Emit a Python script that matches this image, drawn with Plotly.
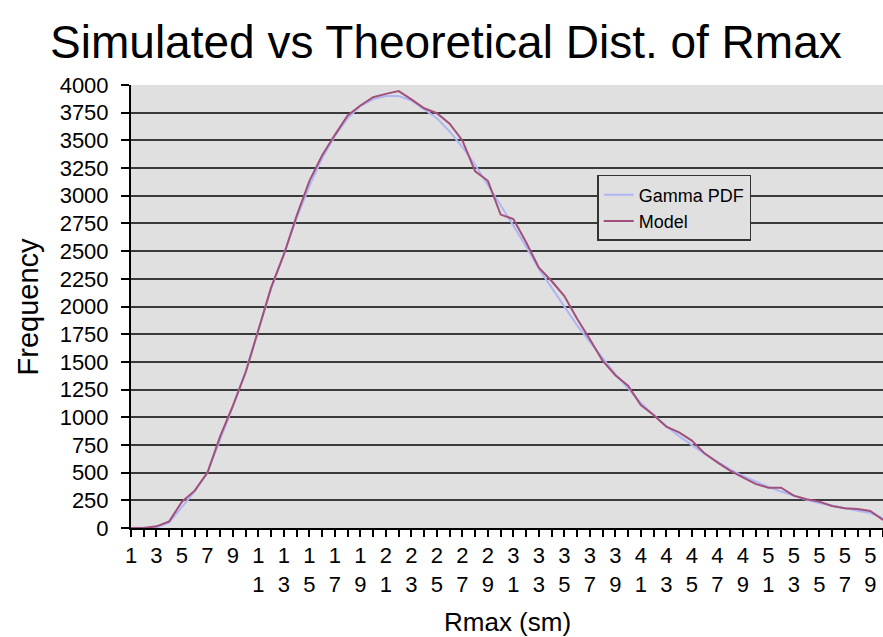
import plotly.graph_objects as go

# Rmax categories (1..60) and the frequency counts
rmax = list(range(1, 61))

gamma_pdf = [0, 0, 5, 50, 190, 330, 500, 800, 1100, 1420,
             1790, 2160, 2480, 2800, 3090, 3340, 3540, 3700, 3810, 3870,
             3900, 3900, 3860, 3780, 3700, 3580, 3440, 3280, 3100, 2910,
             2730, 2540, 2340, 2170, 2000, 1830, 1680, 1530, 1390, 1260,
             1130, 1020, 920, 830, 750, 670, 600, 530, 470, 420,
             370, 330, 290, 255, 225, 200, 175, 155, 135, 90]

model = [0, 0, 15, 60, 238, 337, 500, 829, 1105, 1406,
         1790, 2175, 2470, 2820, 3135, 3365, 3550, 3725, 3815, 3890,
         3920, 3945, 3870, 3790, 3745, 3650, 3500, 3220, 3135, 2830,
         2790, 2580, 2350, 2230, 2095, 1890, 1705, 1510, 1380, 1285,
         1110, 1020, 915, 864, 789, 674, 593, 518, 458, 398,
         364, 364, 292, 260, 238, 199, 178, 172, 154, 72]

# Excel-style labels: only odd values, digits stacked vertically
tick_text = []
for k in rmax:
    if k % 2 == 0:
        tick_text.append("")
    elif k < 10:
        tick_text.append(str(k))
    else:
        tick_text.append("<br>".join(str(k)))

y_ticks = list(range(0, 4001, 250))

fig = go.Figure()

fig.add_trace(go.Scatter(x=rmax, y=gamma_pdf, mode="lines", name="Gamma PDF",
                         line=dict(color="#b0b6f4", width=2)))
fig.add_trace(go.Scatter(x=rmax, y=model, mode="lines", name="Model",
                         line=dict(color="#a0507a", width=2)))

font_family = "Liberation Sans, Arial, sans-serif"

fig.update_layout(
    width=883,
    height=637,
    margin=dict(l=131, r=0, t=85, b=109),
    paper_bgcolor="white",
    plot_bgcolor="#e0e0e0",
    font=dict(family=font_family, color="black"),
    title=dict(text="Simulated vs Theoretical Dist. of Rmax",
               x=0.505, xanchor="center", y=0.935, yanchor="middle",
               font=dict(size=46, color="black")),
    legend=dict(x=0.62, y=0.797, xanchor="left", yanchor="top",
                bgcolor="#e0e0e0", bordercolor="#333333", borderwidth=1.5,
                font=dict(size=18), tracegroupgap=2),
    annotations=[
        dict(text="Frequency", xref="paper", yref="paper", x=-0.137, y=0.5,
             textangle=-90, showarrow=False, font=dict(size=29),
             xanchor="center", yanchor="middle"),
        dict(text="Rmax (sm)", xref="paper", yref="paper", x=0.5, y=-0.212,
             showarrow=False, font=dict(size=26),
             xanchor="center", yanchor="middle"),
    ],
)

fig.update_xaxes(
    range=[1, 60],
    automargin=False,
    tickmode="array", tickvals=rmax, ticktext=tick_text,
    ticks="outside", ticklen=7, tickcolor="black", tickwidth=1.5,
    tickfont=dict(size=22),
    showline=True, linecolor="black", linewidth=2,
    showgrid=False, zeroline=False,
)

fig.update_yaxes(
    range=[0, 4000],
    automargin=False,
    tickmode="array", tickvals=y_ticks,
    ticks="outside", ticklen=8, tickcolor="black", tickwidth=1.5,
    ticklabelstandoff=8,
    tickfont=dict(size=22),
    showline=True, linecolor="black", linewidth=2,
    showgrid=True, gridcolor="#3a3a3a", gridwidth=1.8,
    zeroline=False,
)

# the page's default body margin would push the figure 8px down and right
fig.write_html("out.html", config={"displayModeBar": False},
               post_script="document.body.style.margin='0';")
